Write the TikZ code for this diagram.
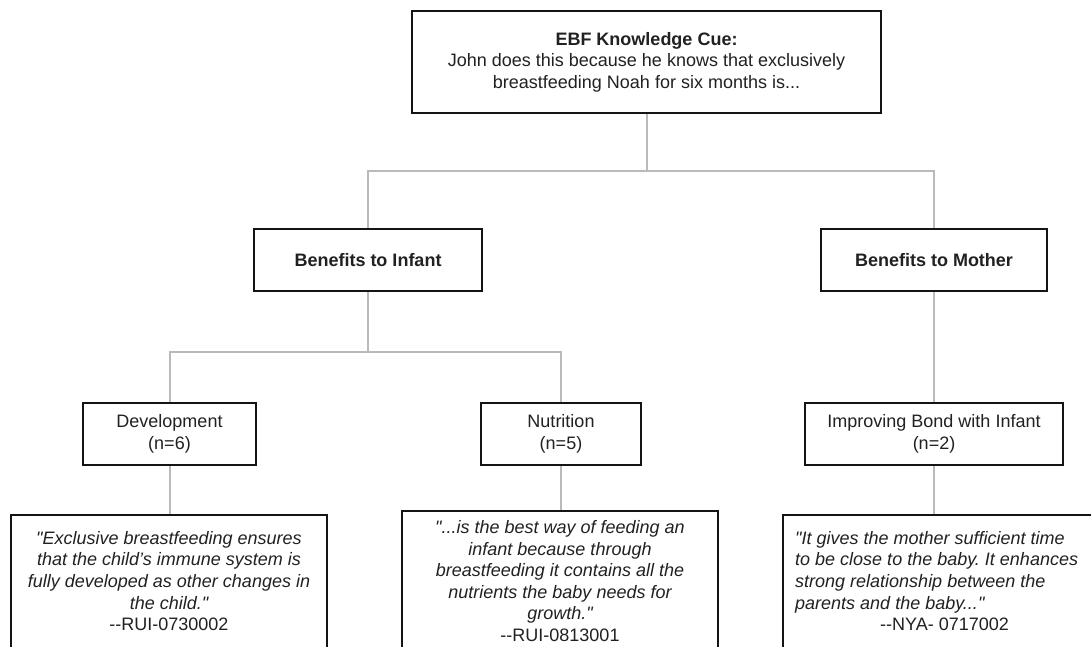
\documentclass[tikz,border=0pt]{standalone}
\usepackage{fontspec}
\setmainfont{Liberation Sans}[Ligatures=TeXOff]
\usetikzlibrary{backgrounds}
\newcommand\dd{\mbox{-}\mbox{-}}
\begin{document}
\frenchspacing
\begin{tikzpicture}[x=1pt,y=-1pt,
  box/.style={draw=black!92, line width=2.4pt, fill=white, align=center, inner sep=0pt,
    font=\fontsize{18}{21.6}\selectfont, text=black!87},
  boldbox/.style={box, font=\fontsize{18}{21.6}\selectfont\bfseries},
  conn/.style={draw=black!27, line width=2pt},
  qtext/.style={align=center, inner sep=0pt, font=\fontsize{18}{21.6}\selectfont\itshape, text=black!87}]
\useasboundingbox (0,0) rectangle (1091,646);
\clip (0,0) rectangle (1091,646);

% level 0
\node[box, minimum width=469, minimum height=102] (cue) at (646.5,62)
  {\textbf{EBF Knowledge Cue:}\\John does this because he knows that exclusively\\breastfeeding Noah for six months is...};
% level 1
\node[boldbox, minimum width=228, minimum height=62] (inf) at (368,260) {Benefits to Infant};
\node[boldbox, minimum width=226, minimum height=62] (mom) at (934,260) {Benefits to Mother};
% level 2
\node[box, minimum width=173, minimum height=62] (dev) at (169.5,434) {Development\\(n=6)};
\node[box, minimum width=160, minimum height=62] (nut) at (561,434) {Nutrition\\(n=5)};
\node[box, minimum width=258, minimum height=62] (imp) at (934,434) {Improving Bond with Infant\\(n=2)};
% quote boxes (cut by the lower edge)
\node[box, minimum width=316, minimum height=150, anchor=north] (q1) at (169,514) {};
\node[box, minimum width=316, minimum height=150, anchor=north] (q2) at (560,510) {};
\node[box, minimum width=320, minimum height=150, anchor=north west] (q3) at (782,514) {};
% quote texts
\node[qtext] (t1) at (169,581)
  {"Exclusive breastfeeding ensures\\that the child’s immune system is\\fully developed as other changes in\\the child."\\\textup{\dd RUI-0730002}};
\node[qtext] (t2) at (560,581)
  {"...is the best way of feeding an\\infant because through\\breastfeeding it contains all the\\nutrients the baby needs for\\growth."\\\textup{\dd RUI-0813001}};
\node[qtext, align=left, anchor=west] (t3) at (795,581)
  {"It gives the mother sufficient time\\to be close to the baby. It enhances\\strong relationship between the\\parents and the baby..."\\\hspace*{85pt}\textup{\dd NYA- 0717002}};

\coordinate (j1) at (646.5,171);
\coordinate (j2) at (368,352);
\begin{scope}[on background layer]
  \fill[white] (0,0) rectangle (1091,646);
  \draw[conn] (cue) -- (j1);
  \draw[conn] (j1) -| (inf);
  \draw[conn] (j1) -| (mom);
  \draw[conn] (inf) -- (j2);
  \draw[conn] (j2) -| (dev);
  \draw[conn] (j2) -| (nut);
  \draw[conn] (mom) -- (imp);
  \draw[conn] (dev) -- (dev |- q1.north);
  \draw[conn] (nut) -- (nut |- q2.north);
  \draw[conn] (imp) -- (imp |- q3.north);
\end{scope}
\end{tikzpicture}
\end{document}
